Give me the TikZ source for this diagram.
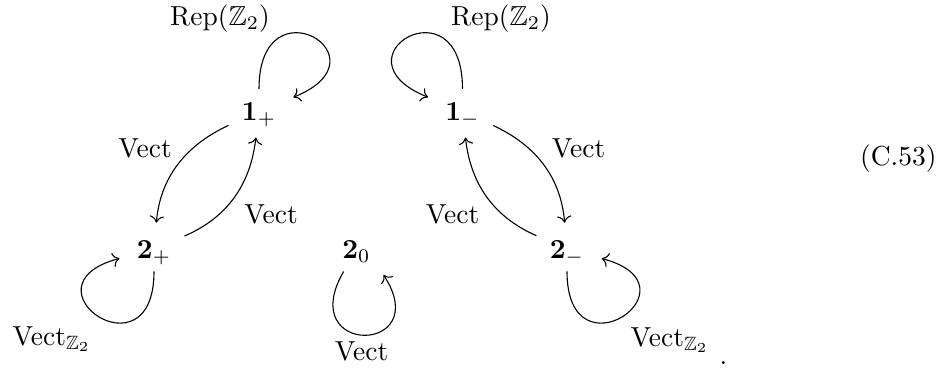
\documentclass[tikz,border=0pt]{standalone}
\usepackage{amssymb}
\usetikzlibrary{cd}
\begin{document}
\begin{tikzpicture}[x=0.363636pt,y=0.363636pt,
  obj/.style={inner sep=4.7pt, text height=6.44pt, text depth=0pt, anchor=base},
  lab/.style={inner sep=0pt, anchor=base},
  arr/.style={-{cm to}, line width=0.4pt, shorten >=1.5pt}]
\useasboundingbox (0,-369) rectangle (949,0);
% objects
\node[obj] (p1) at (259,-120) {$\mathbf{1}_+$};
\node[obj] (m1) at (462.5,-120) {$\mathbf{1}_-$};
\node[obj] (p2) at (154,-258) {$\mathbf{2}_+$};
\node[obj] (z2) at (356.5,-258) {$\mathbf{2}_0$};
\node[obj] (m2) at (567,-258) {$\mathbf{2}_-$};
% labels
\node[lab] (repL) at (220,-25) {$\mathrm{Rep}(\mathbb{Z}_2)$};
\node[lab] (repR) at (501,-25) {$\mathrm{Rep}(\mathbb{Z}_2)$};
\node[lab] (vUL) at (145,-157) {$\mathrm{Vect}$};
\node[lab] (vLRl) at (271,-223) {$\mathrm{Vect}$};
\node[lab] (vUR) at (578.5,-157) {$\mathrm{Vect}$};
\node[lab] (vLLr) at (452.5,-223) {$\mathrm{Vect}$};
\node[lab, anchor=base west] (vzL) at (12,-345) {$\mathrm{Vect}_{\mathbb{Z}_2}$};
\node[lab, anchor=base west] (vzR) at (630,-346) {$\mathrm{Vect}_{\mathbb{Z}_2}$};
\node[lab] (v0) at (361.5,-360) {$\mathrm{Vect}$};
\node[lab, anchor=base west] (dot) at (719,-364) {.};
\node[lab, anchor=base east] (eqn) at (937,-165) {(C.53)};
% arrows
\draw[arr] (p1) to[out=205,in=85] (p2);
\draw[arr] (p2) to[out=23.5,in=263.5] (p1);
\draw[arr] (m1) to[out=335,in=95] (m2);
\draw[arr] (m2) to[out=156.5,in=276.5] (m1);
% loops
\draw[arr] (p1) to[out=90,in=22,distance=40pt] (p1);
\draw[arr] (m1) to[out=90,in=158,distance=40pt] (m1);
\draw[arr] (p2) to[out=270,in=195,distance=40pt] (p2);
\draw[arr] (m2) to[out=270,in=345,distance=40pt] (m2);
\draw[arr] (z2.240) to[out=240,in=303,distance=36pt] (z2.318);
\end{tikzpicture}
\end{document}
